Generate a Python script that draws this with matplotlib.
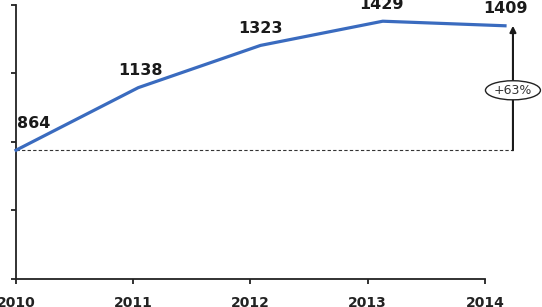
import numpy as np
import matplotlib
matplotlib.use('Agg')
import matplotlib.pyplot as plt

years = ["2010", "2011", "2012", "2013", "2014"]
values = [864, 1138, 1323, 1429, 1409]
growth_label = "+63%"

fig = plt.figure(figsize=(5.42, 3.07), dpi=100)
ax = fig.add_axes([16 / 542, 28 / 307, 489 / 542, 274 / 307])

x = np.arange(len(years))
ax.plot(x, values, color="#3a6bbf", linewidth=2.3, clip_on=False,
        solid_joinstyle="round", zorder=3)

ax.set_xlim(0, 4)
ax.set_ylim(300, 1500)
ax.set_yticks([300, 600, 900, 1200, 1500])
ax.set_yticklabels([])

# axis ticks are spaced a bit tighter than the plotted points in the original
tick_pos = x * 0.959
ax.set_xticks(tick_pos)
ax.set_xticklabels(years, fontsize=10, fontweight="bold", color="#222222")

for s in ["top", "right"]:
    ax.spines[s].set_visible(False)
ax.spines["bottom"].set_bounds(0, tick_pos[-1])
ax.spines["left"].set_bounds(300, 1500)
for s in ["left", "bottom"]:
    ax.spines[s].set_linewidth(1.3)
    ax.spines[s].set_color("#222222")
ax.tick_params(axis="both", direction="out", length=3.5, width=1.3, color="#222222")
ax.tick_params(axis="x", pad=9)

# value labels
offsets = [(0.145, 82), (0.016, 43), (0.0, 40), (-0.01, 40), (0.0, 44)]
for xi, v, (dx, dy) in zip(x, values, offsets):
    ax.text(xi + dx, v + dy, str(v), ha="center", va="bottom",
            fontsize=11.5, fontweight="bold", color="#1a1a1a", clip_on=False)

# baseline and growth arrow
arrow_x = 4.065
ax.plot([0, arrow_x], [values[0], values[0]], linestyle=(0, (3, 2)),
        color="#333333", linewidth=0.8, clip_on=False, zorder=2)
ax.annotate("", xy=(arrow_x, values[-1]), xytext=(arrow_x, values[0]),
            arrowprops=dict(arrowstyle="-|>", color="#1a1a1a", lw=1.5,
                            mutation_scale=9, shrinkA=0, shrinkB=0),
            annotation_clip=False)
ax.text(arrow_x, (values[0] + values[-1]) / 2 - 10, growth_label, ha="center",
        va="center", fontsize=9, color="#333333", clip_on=False,
        bbox=dict(boxstyle="ellipse,pad=0.02", fc="white", ec="#222222", lw=1.0))

fig.savefig("out.png", dpi=100)
